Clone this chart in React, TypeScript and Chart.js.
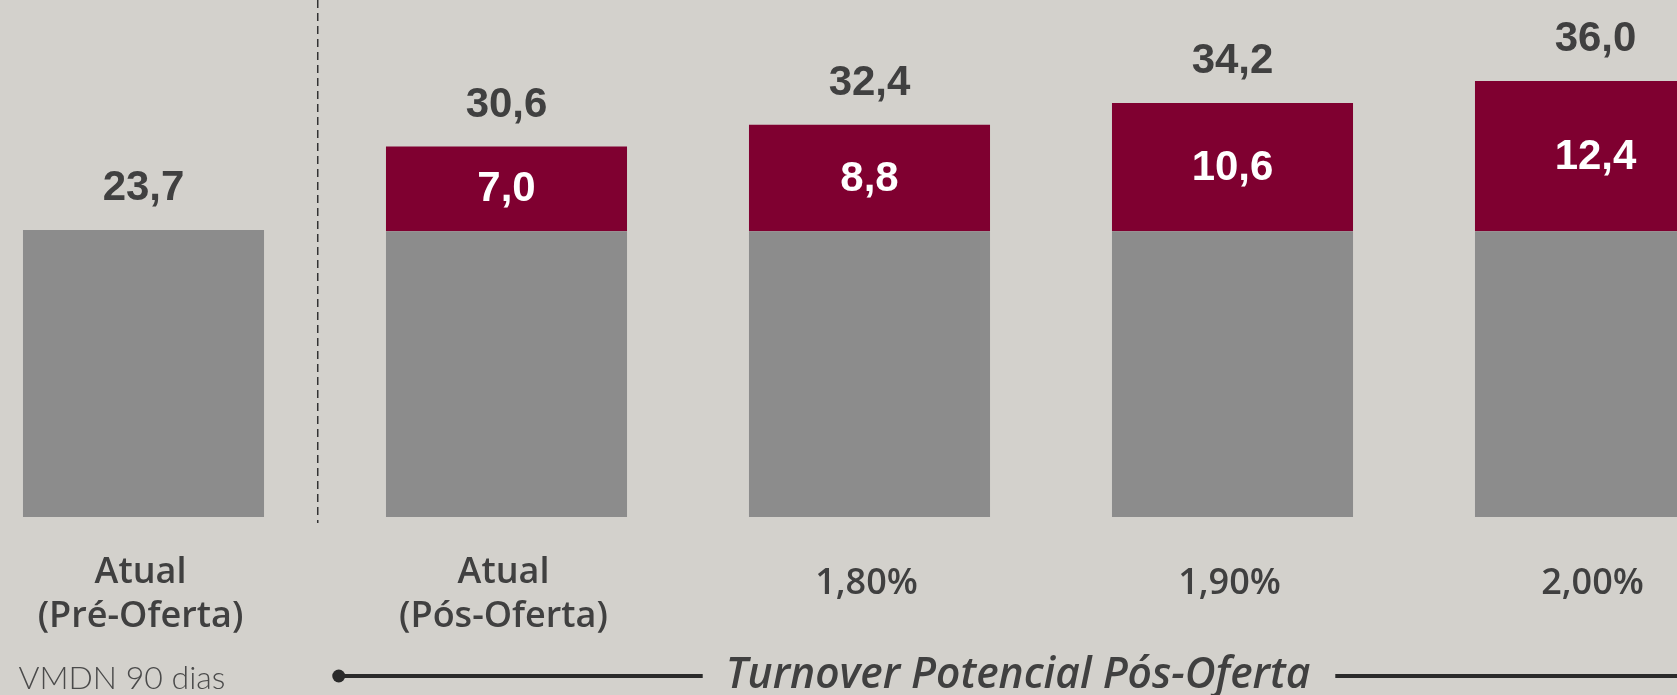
import React, { useEffect, useRef } from "react";
import { Chart, registerables } from "chart.js";

Chart.register(...registerables);

const CATEGORIES: string[][] = [
  ["Atual", "(Pré-Oferta)"],
  ["Atual", "(Pós-Oferta)"],
  ["1,80%"],
  ["1,90%"],
  ["2,00%"],
];
const BASE = [23.7, 23.6, 23.6, 23.6, 23.6];
const INCREMENT = [0, 7.0, 8.8, 10.6, 12.4];
const TOTALS = [23.7, 30.6, 32.4, 34.2, 36.0];
const FOOTNOTE = "VMDN 90 dias";
const GROUP_LABEL = "Turnover Potencial Pós-Oferta";

const BG = "#d3d1cc";
const GRAY = "#8c8c8c";
const RED = "#7f0030";
const TEXT = "#404040";
const NUM_FONT = '"Liberation Sans", Arial, sans-serif';
const LABEL_FONT = '"Open Sans", Lato, sans-serif';
const LIGHT_FONT = 'Lato, "Open Sans", sans-serif';

const fmt = (v: number) => v.toFixed(1).replace(".", ",");

const overlayPlugin = {
  id: "overlay",
  afterDatasetsDraw(chart: any) {
    const { ctx, chartArea, scales } = chart;
    const x = scales.x;
    const y = scales.y;
    const bottom = chartArea.bottom;
    ctx.save();

    // totals above bars
    ctx.fillStyle = TEXT;
    ctx.font = `bold 42px ${NUM_FONT}`;
    ctx.textAlign = "center";
    ctx.textBaseline = "alphabetic";
    TOTALS.forEach((t, i) => {
      ctx.fillText(fmt(t), x.getPixelForValue(i), y.getPixelForValue(t) - 30);
    });

    // increments inside red segments
    ctx.fillStyle = "#ffffff";
    ctx.textBaseline = "middle";
    INCREMENT.forEach((v, i) => {
      if (!v) return;
      const top = y.getPixelForValue(BASE[i] + v);
      const bot = y.getPixelForValue(BASE[i]);
      ctx.fillText(fmt(v), x.getPixelForValue(i), (top + bot) / 2 + 1);
    });

    // category labels
    ctx.fillStyle = TEXT;
    ctx.font = `600 36px ${LABEL_FONT}`;
    ctx.textBaseline = "alphabetic";
    CATEGORIES.forEach((lines, i) => {
      const cx = x.getPixelForValue(i) - 3;
      if (lines.length === 1) {
        ctx.fillText(lines[0], cx, bottom + 77);
      } else {
        lines.forEach((l, k) => ctx.fillText(l, cx, bottom + 66 + k * 44));
      }
    });

    // dashed separator
    const dashX = x.getPixelForValue(0.48);
    ctx.strokeStyle = "#333333";
    ctx.lineWidth = 1.5;
    ctx.setLineDash([8, 5]);
    ctx.beginPath();
    ctx.moveTo(dashX, 0);
    ctx.lineTo(dashX, bottom + 6);
    ctx.stroke();
    ctx.setLineDash([]);

    // footnote
    ctx.fillStyle = "#4a4a4a";
    ctx.font = `300 32px ${LIGHT_FONT}`;
    ctx.textAlign = "left";
    ctx.fillText(FOOTNOTE, x.getPixelForValue(0) - 125, bottom + 172);

    // group label with line
    const lineY = bottom + 159;
    const textX = x.getPixelForValue(2.5) - 33;
    ctx.font = `italic 600 42.5px ${LABEL_FONT}`;
    ctx.textAlign = "center";
    ctx.textBaseline = "middle";
    ctx.fillStyle = TEXT;
    ctx.fillText(GROUP_LABEL, textX, lineY);
    const tw = ctx.measureText(GROUP_LABEL).width;
    const dotX = dashX + 21;
    ctx.strokeStyle = "#2a2a2a";
    ctx.lineWidth = 4;
    ctx.beginPath();
    ctx.moveTo(dotX, lineY);
    ctx.lineTo(textX - tw / 2 - 23, lineY);
    ctx.moveTo(textX + tw / 2 + 25, lineY);
    ctx.lineTo(chartArea.right, lineY);
    ctx.stroke();
    ctx.fillStyle = "#2a2a2a";
    ctx.beginPath();
    ctx.arc(dotX, lineY, 6.5, 0, Math.PI * 2);
    ctx.fill();

    ctx.restore();
  },
};

export default function App() {
  const ref = useRef<HTMLCanvasElement | null>(null);

  useEffect(() => {
    document.body.style.margin = "0";
    if (!ref.current) return;
    const chart = new Chart(ref.current, {
      type: "bar",
      data: {
        labels: CATEGORIES as any,
        datasets: [
          { data: BASE, backgroundColor: GRAY, stack: "s" },
          { data: INCREMENT, backgroundColor: RED, stack: "s" },
        ],
      },
      options: {
        responsive: false,
        animation: false,
        devicePixelRatio: 1,
        layout: { padding: { top: 0, bottom: 178, left: 0, right: 0 } },
        datasets: { bar: { categoryPercentage: 1, barPercentage: 0.664 } },
        plugins: { legend: { display: false }, tooltip: { enabled: false } },
        scales: {
          x: { display: false, stacked: true },
          y: { display: false, stacked: true, min: 0, max: 42.7 },
        },
      },
      plugins: [overlayPlugin],
    });
    return () => chart.destroy();
  }, []);

  return (
    <div
      style={{
        position: "fixed",
        left: 0,
        top: 0,
        width: 1677,
        height: 695,
        overflow: "hidden",
        background: BG,
      }}
    >
      <canvas
        ref={ref}
        width={1815}
        height={695}
        style={{ position: "absolute", left: -38, top: 0, width: 1815, height: 695 }}
      />
    </div>
  );
}
